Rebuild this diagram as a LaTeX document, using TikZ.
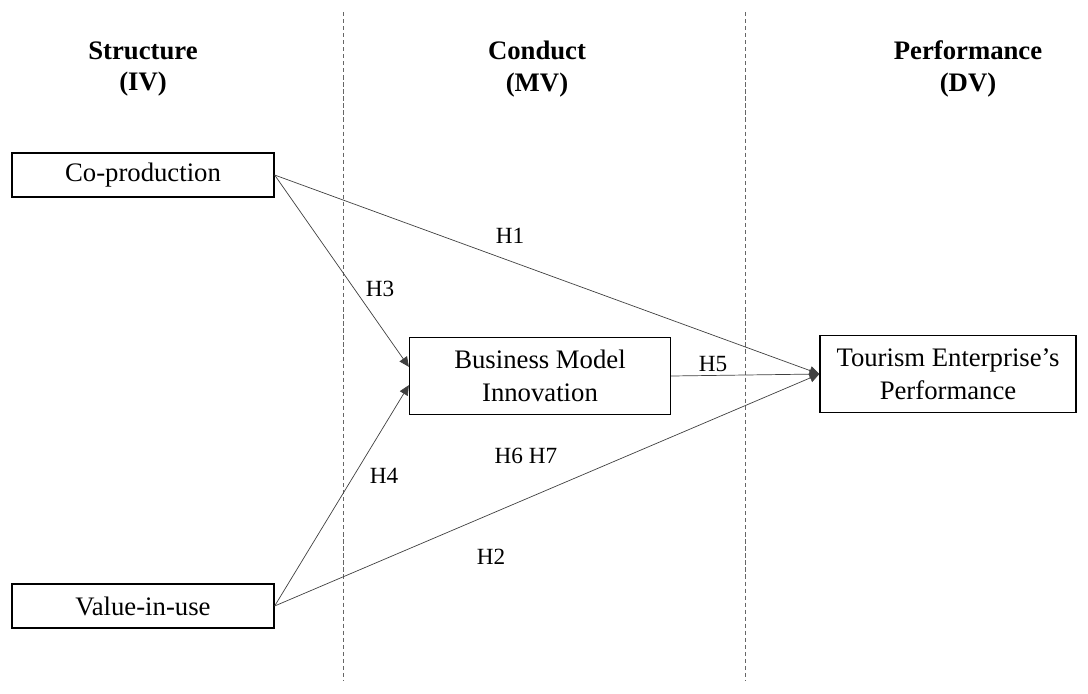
\documentclass[tikz,border=0pt]{standalone}
\usepackage{fontspec}
\setmainfont{Liberation Serif}
\usetikzlibrary{arrows.meta}

\begin{document}
\begin{tikzpicture}[x=0.025cm,y=-0.025cm]
\useasboundingbox (0,0) rectangle (1088,693);
% column separators
\draw[gray!80!black,line width=0.5pt,dash pattern=on 3pt off 2pt] (343,12) -- (343,680);
\draw[gray!80!black,line width=0.5pt,dash pattern=on 3pt off 2pt] (745,12) -- (745,680);

\begin{scope}[every node/.style={align=center,font=\fontsize{19}{22.5}\selectfont\bfseries}]
    \node (S) at (143,69) {Structure\\(IV)};
    \node (M) at (537,69) {Conduct\\(MV)};
    \node (P) at (968,69) {Performance\\(DV)};
\end{scope}

\begin{scope}[every node/.style={rectangle,draw,line width=0.9pt,align=center,font=\fontsize{19}{23.5}\selectfont}]
    \node (A)[minimum width=262*0.025cm,minimum height=44*0.025cm] at (143,175) {Co-production};
    \node (B)[minimum width=262*0.025cm,minimum height=44*0.025cm] at (143,606) {Value-in-use};
    \node (C)[minimum width=261*0.025cm,minimum height=77*0.025cm] at (540,376) {Business Model\\Innovation};
    \node (D)[minimum width=256*0.025cm,minimum height=77*0.025cm] at (948,374) {Tourism Enterprise's\\Performance};
\end{scope}

\begin{scope}[every edge/.style={draw=black!75,line width=0.5pt,-{Triangle[length=7pt,width=6.5pt]}}]
    \path  (A.east) edge (D.west);
    \path  (A.east) edge (C.176);
    \path  (B.east) edge (C.184);
    \path  (B.east) edge (D.west);
    \path  (C.east) edge (D.west);
\end{scope}

\begin{scope}[every node/.style={font=\fontsize{16.5}{18}\selectfont}]
    \node (h1) at (510,236) {H1};
    \node (h3) at (380,289) {H3};
    \node (h5) at (713,364) {H5};
    \node (h67) at (526,456) {H6 H7};
    \node (h4) at (384,476) {H4};
    \node (h2) at (491,557) {H2};
\end{scope}
\end{tikzpicture}
\end{document}
